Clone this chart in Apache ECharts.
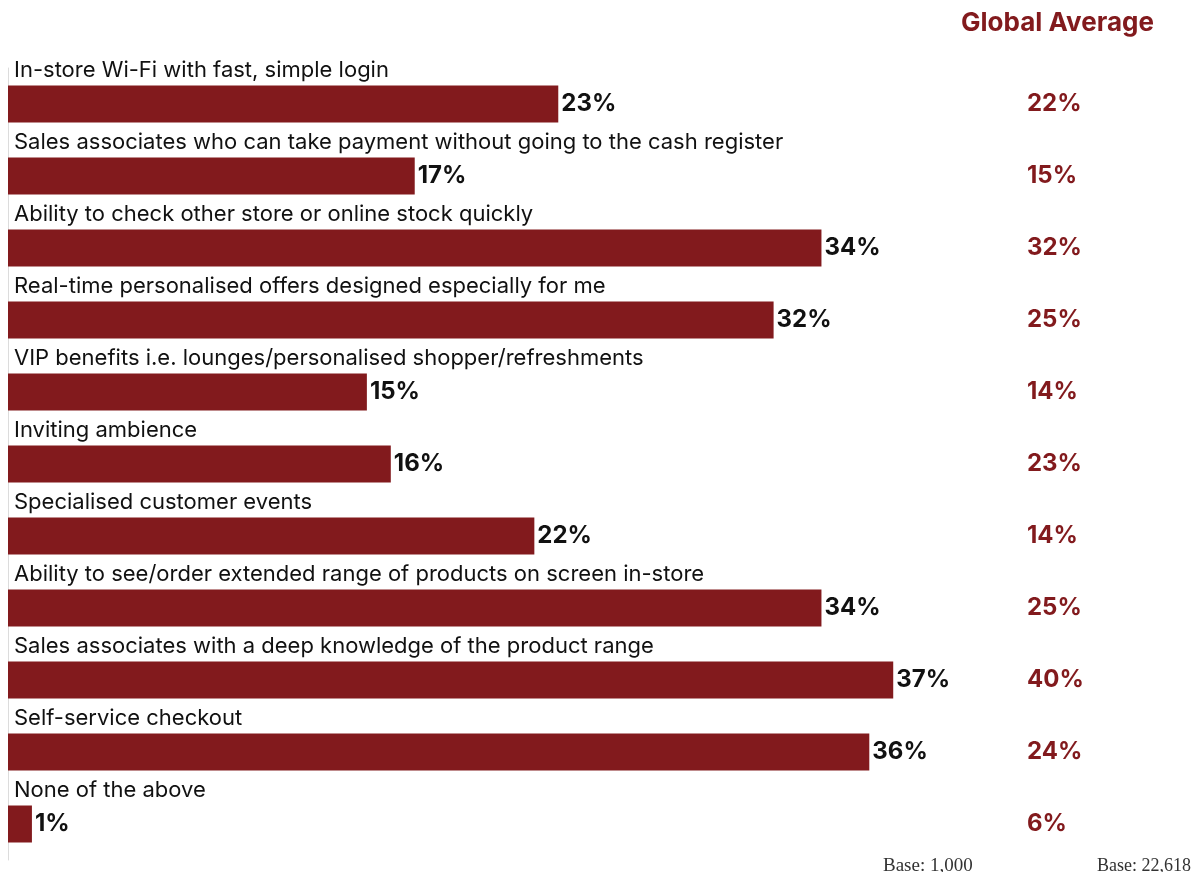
<!DOCTYPE html>
<html>
<head>
<meta charset="utf-8">
<script src="https://cdn.jsdelivr.net/npm/echarts@6/dist/echarts.min.js"></script>
<style>
  html, body { margin: 0; padding: 0; background: #fff; }
  #chart { width: 1204px; height: 872px; }
</style>
</head>
<body>
<div id="chart"></div>
<script>
// Store features shoppers value (local sample vs. global average)
const categories = [
  'In-store Wi-Fi with fast, simple login',
  'Sales associates who can take payment without going to the cash register',
  'Ability to check other store or online stock quickly',
  'Real-time personalised offers designed especially for me',
  'VIP benefits i.e. lounges/personalised shopper/refreshments',
  'Inviting ambience',
  'Specialised customer events',
  'Ability to see/order extended range of products on screen in-store',
  'Sales associates with a deep knowledge of the product range',
  'Self-service checkout',
  'None of the above'
];
const localValues = [23, 17, 34, 32, 15, 16, 22, 34, 37, 36, 1];
const globalValues = [22, 15, 32, 25, 14, 23, 14, 25, 40, 24, 6];
const globalTitle = 'Global Average';
const baseLocal = 'Base: 1,000';
const baseGlobal = 'Base: 22,618';

const RED = '#821a1d';
const SANS = 'Inter';
const SERIF = 'Liberation Serif';

const chart = echarts.init(document.getElementById('chart'));
chart.setOption({
  animation: false,
  grid: { left: 8, right: 239, top: 68, bottom: 12, containLabel: false },
  xAxis: {
    type: 'value', min: 0, max: 40,
    show: false
  },
  yAxis: [
    {
      type: 'category', data: categories, inverse: true,
      axisLine: { show: true, lineStyle: { color: '#dcdcdc', width: 1 } },
      axisTick: { show: false },
      axisLabel: { show: false }
    },
    {
      type: 'category', data: categories, inverse: true, position: 'right',
      axisLine: { show: false },
      axisTick: { show: false },
      axisLabel: {
        align: 'left', margin: 62,
        fontFamily: SANS, fontWeight: 'bold', fontSize: 24, color: RED,
        formatter: (v, i) => globalValues[i] + '%'
      }
    }
  ],
  series: [
    {
      type: 'bar', data: localValues, barWidth: 37,
      itemStyle: { color: RED },
      label: {
        show: true, position: 'right', distance: 3,
        fontFamily: SANS, fontWeight: 'bold', fontSize: 24, color: '#111',
        formatter: p => p.value + '%'
      }
    },
    {
      // transparent overlay that carries the category caption above each bar
      type: 'bar', data: localValues, barWidth: 37, barGap: '-100%',
      itemStyle: { color: 'rgba(0,0,0,0)' },
      silent: true,
      label: {
        show: true, position: [6, -4], verticalAlign: 'bottom', align: 'left',
        fontFamily: SANS, fontSize: 22, color: '#111',
        formatter: p => categories[p.dataIndex]
      }
    }
  ],
  graphic: [
    {
      type: 'text', left: 961, top: 10,
      style: { text: globalTitle, fontFamily: SANS, fontWeight: 'bold', fontSize: 26, fill: RED }
    },
    {
      type: 'text', left: 883, top: 857,
      style: { text: baseLocal, fontFamily: SERIF, fontSize: 19, fill: '#333' }
    },
    {
      type: 'text', left: 1097, top: 857,
      style: { text: baseGlobal, fontFamily: SERIF, fontSize: 18, fill: '#333' }
    }
  ]
});
</script>
</body>
</html>
